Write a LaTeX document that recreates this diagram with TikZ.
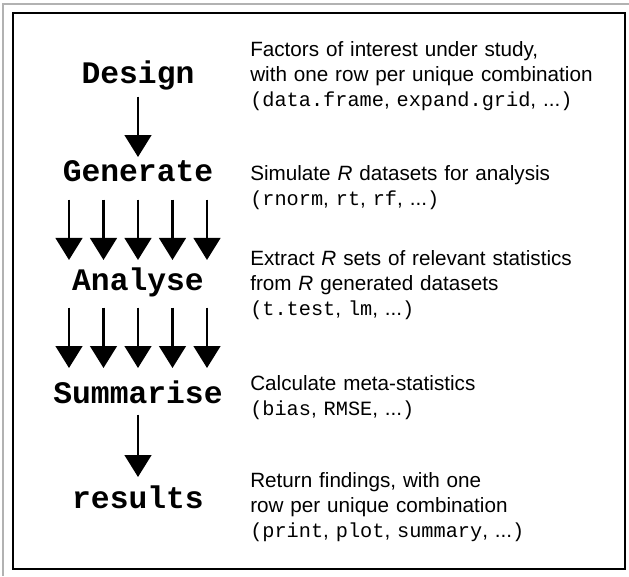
\documentclass[tikz,border=0pt]{standalone}
\usepackage{fontspec}
\setmainfont{Liberation Sans}
\newfontfamily\monofont{Liberation Mono}
\usetikzlibrary{arrows.meta,calc}
\newcommand{\code}[1]{{\monofont\fontsize{15.2pt}{19pt}\selectfont #1}}
\tikzset{
  stage/.style={font=\monofont\bfseries\fontsize{23.5pt}{28pt}\selectfont, anchor=base,
    inner sep=0pt, outer sep=0pt, text height=12pt, text depth=5pt},
  notes/.style={font=\fontsize{15.5pt}{19.1pt}\selectfont, anchor=base west, align=left,
    text width=290pt, inner sep=0pt},
  flow/.style={line width=1.9pt, -{Triangle[width=20pt,length=16.5pt]}}
}
\begin{document}
\begin{tikzpicture}[x=0.75pt,y=-0.75pt]
\useasboundingbox (0,0) rectangle (629,576);
\draw[gray!60, line width=1.2pt] (3,576) -- (3,4) -- (629,4);
\draw[line width=1.6pt] (13,13) rectangle (625,569);
\node[stage] (Design) at (138,83.5) {Design};
\node[stage] (Generate) at (138,181) {Generate};
\node[stage] (Analyse) at (138,290.5) {Analyse};
\node[stage] (Summarise) at (138,403) {Summarise};
\node[stage] (results) at (138,508) {results};
\node[notes] (Design_Notes) at (250,56) {Factors of interest under study,\\
  with one row per unique combination\\
  \code{(data.frame}, \code{expand.grid}, ...\code{)}};
\node[notes] (Generate_Notes) at (250,180) {Simulate \textit{R} datasets for analysis\\
  \code{(rnorm}, \code{rt}, \code{rf}, ...\code{)}};
\node[notes] (Analyse_Notes) at (250,265) {Extract \textit{R} sets of relevant statistics\\
  from \textit{R} generated datasets\\
  \code{(t.test}, \code{lm}, ...\code{)}};
\node[notes] (Summarise_Notes) at (250,390) {Calculate meta-statistics\\
  \code{(bias}, \code{RMSE}, ...\code{)}};
\node[notes] (results_Notes) at (250,487) {Return findings, with one\\
  row per unique combination\\
  \code{(print}, \code{plot}, \code{summary}, ...\code{)}};
\draw[flow, shorten <=4.9pt, shorten >=6pt] (Design.south) -- (Generate.north);
\foreach \dx in {-69,-34.5,0,34.5,69}
  \draw[flow, shorten <=9pt, shorten >=10.9pt]
    ($(Generate.south)+(\dx,0)$) -- ($(Analyse.north)+(\dx,0)$);
\foreach \dx in {-69,-34.5,0,34.5,69}
  \draw[flow, shorten <=7.9pt, shorten >=14.25pt]
    ($(Analyse.south)+(\dx,0)$) -- ($(Summarise.north)+(\dx,0)$);
\draw[flow, shorten <=3.75pt, shorten >=11.25pt] (Summarise.south) -- (results.north);
\end{tikzpicture}
\end{document}
